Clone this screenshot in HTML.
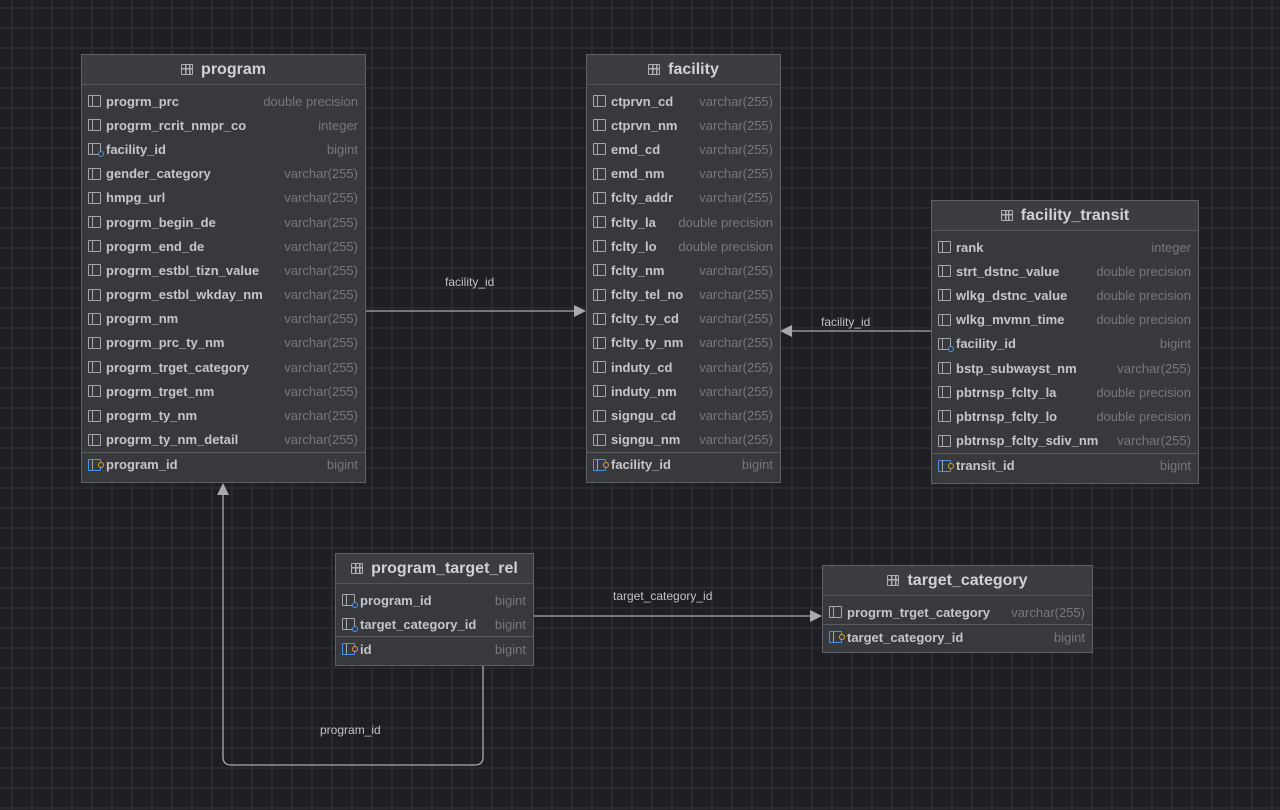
<!DOCTYPE html>
<html><head><meta charset="utf-8"><style>
body{margin:0;width:1280px;height:810px;overflow:hidden;background:#1e1f22;font-family:"Liberation Sans",sans-serif;position:relative;
background-image:linear-gradient(#2a2b2e 2px,transparent 2px),linear-gradient(90deg,#2a2b2e 2px,transparent 2px);
background-size:20px 20px;background-position:0 7px,11px 0;}
.t{position:absolute;background:#38393c;border:1px solid #5f6064;box-sizing:border-box;}
.h{height:30px;background:#3c3d40;border-bottom:1px solid #55565a;color:#d0d2d6;font-weight:bold;font-size:16px;display:flex;align-items:center;justify-content:center;box-sizing:border-box;}
.h i{display:inline-block;width:12px;height:11px;border:1.5px solid #aeb0b4;border-radius:1px;margin-right:8px;position:relative;box-sizing:border-box;
background:linear-gradient(#aeb0b4,#aeb0b4) 0 3px/100% 1.5px no-repeat,linear-gradient(#aeb0b4,#aeb0b4) 3px 0/1.5px 100% no-repeat,linear-gradient(#aeb0b4,#aeb0b4) 6.5px 0/1.5px 100% no-repeat;}
.b{padding-top:4px}
.r{height:24.2px;display:flex;align-items:center;font-size:13px;padding:0 7px 0 6px;}
.r b{color:#c4c6ca;flex:1;white-space:nowrap}
.r span{color:#76787c;white-space:nowrap}
.c{display:inline-block;width:13px;height:12px;border:1.3px solid #a5a7ab;border-radius:1px;box-sizing:border-box;margin-right:5px;position:relative;
background:linear-gradient(#a5a7ab,#a5a7ab) 3px 0/1.3px 100% no-repeat;}
.c.f::after{content:"";position:absolute;right:-4px;bottom:-3px;width:4px;height:4px;border:1.3px solid #4c8fe6;border-radius:50%;background:#38393c}
.c.p{border-color:#4c8fe6}
.c.p::after{content:"";position:absolute;right:-4px;top:2px;width:4px;height:4px;border:1.3px solid #d9a23a;border-radius:50%;background:#38393c}
.sep{border-top:1px solid #5a5b5f}
.lbl{position:absolute;color:#c0c2c6;font-size:12px}
</style></head><body>
<svg width="1280" height="810" style="position:absolute;left:0;top:0" fill="none" stroke="#a8aaad" stroke-width="1.3">
<line x1="365" y1="311" x2="576" y2="311"/><polygon points="586,311 574,305 574,317" fill="#a8aaad" stroke="none"/>
<line x1="931" y1="331" x2="790" y2="331"/><polygon points="780,331 792,325 792,337" fill="#a8aaad" stroke="none"/>
<line x1="533" y1="616" x2="812" y2="616"/><polygon points="822,616 810,610 810,622" fill="#a8aaad" stroke="none"/>
<path d="M483 665 V757 Q483 765 475 765 H231 Q223 765 223 757 V494"/><polygon points="223,483 217,495 229,495" fill="#a8aaad" stroke="none"/>
</svg>
<div class="lbl" style="left:445px;top:275px">facility_id</div>
<div class="lbl" style="left:821px;top:315px">facility_id</div>
<div class="lbl" style="left:613px;top:589px">target_category_id</div>
<div class="lbl" style="left:320px;top:723px">program_id</div>

<div class="t" style="left:81px;top:54px;width:285px;height:429px">
<div class="h"><i></i>program</div><div class="b">
<div class="r"><u class="c"></u><b>progrm_prc</b><span>double precision</span></div>
<div class="r"><u class="c"></u><b>progrm_rcrit_nmpr_co</b><span>integer</span></div>
<div class="r"><u class="c f"></u><b>facility_id</b><span>bigint</span></div>
<div class="r"><u class="c"></u><b>gender_category</b><span>varchar(255)</span></div>
<div class="r"><u class="c"></u><b>hmpg_url</b><span>varchar(255)</span></div>
<div class="r"><u class="c"></u><b>progrm_begin_de</b><span>varchar(255)</span></div>
<div class="r"><u class="c"></u><b>progrm_end_de</b><span>varchar(255)</span></div>
<div class="r"><u class="c"></u><b>progrm_estbl_tizn_value</b><span>varchar(255)</span></div>
<div class="r"><u class="c"></u><b>progrm_estbl_wkday_nm</b><span>varchar(255)</span></div>
<div class="r"><u class="c"></u><b>progrm_nm</b><span>varchar(255)</span></div>
<div class="r"><u class="c"></u><b>progrm_prc_ty_nm</b><span>varchar(255)</span></div>
<div class="r"><u class="c"></u><b>progrm_trget_category</b><span>varchar(255)</span></div>
<div class="r"><u class="c"></u><b>progrm_trget_nm</b><span>varchar(255)</span></div>
<div class="r"><u class="c"></u><b>progrm_ty_nm</b><span>varchar(255)</span></div>
<div class="r"><u class="c"></u><b>progrm_ty_nm_detail</b><span>varchar(255)</span></div>
<div class="r sep"><u class="c p"></u><b>program_id</b><span>bigint</span></div>
</div></div>

<div class="t" style="left:586px;top:54px;width:195px;height:429px">
<div class="h"><i></i>facility</div><div class="b">
<div class="r"><u class="c"></u><b>ctprvn_cd</b><span>varchar(255)</span></div>
<div class="r"><u class="c"></u><b>ctprvn_nm</b><span>varchar(255)</span></div>
<div class="r"><u class="c"></u><b>emd_cd</b><span>varchar(255)</span></div>
<div class="r"><u class="c"></u><b>emd_nm</b><span>varchar(255)</span></div>
<div class="r"><u class="c"></u><b>fclty_addr</b><span>varchar(255)</span></div>
<div class="r"><u class="c"></u><b>fclty_la</b><span>double precision</span></div>
<div class="r"><u class="c"></u><b>fclty_lo</b><span>double precision</span></div>
<div class="r"><u class="c"></u><b>fclty_nm</b><span>varchar(255)</span></div>
<div class="r"><u class="c"></u><b>fclty_tel_no</b><span>varchar(255)</span></div>
<div class="r"><u class="c"></u><b>fclty_ty_cd</b><span>varchar(255)</span></div>
<div class="r"><u class="c"></u><b>fclty_ty_nm</b><span>varchar(255)</span></div>
<div class="r"><u class="c"></u><b>induty_cd</b><span>varchar(255)</span></div>
<div class="r"><u class="c"></u><b>induty_nm</b><span>varchar(255)</span></div>
<div class="r"><u class="c"></u><b>signgu_cd</b><span>varchar(255)</span></div>
<div class="r"><u class="c"></u><b>signgu_nm</b><span>varchar(255)</span></div>
<div class="r sep"><u class="c p"></u><b>facility_id</b><span>bigint</span></div>
</div></div>

<div class="t" style="left:931px;top:200px;width:268px;height:284px">
<div class="h"><i></i>facility_transit</div><div class="b">
<div class="r"><u class="c"></u><b>rank</b><span>integer</span></div>
<div class="r"><u class="c"></u><b>strt_dstnc_value</b><span>double precision</span></div>
<div class="r"><u class="c"></u><b>wlkg_dstnc_value</b><span>double precision</span></div>
<div class="r"><u class="c"></u><b>wlkg_mvmn_time</b><span>double precision</span></div>
<div class="r"><u class="c f"></u><b>facility_id</b><span>bigint</span></div>
<div class="r"><u class="c"></u><b>bstp_subwayst_nm</b><span>varchar(255)</span></div>
<div class="r"><u class="c"></u><b>pbtrnsp_fclty_la</b><span>double precision</span></div>
<div class="r"><u class="c"></u><b>pbtrnsp_fclty_lo</b><span>double precision</span></div>
<div class="r"><u class="c"></u><b>pbtrnsp_fclty_sdiv_nm</b><span>varchar(255)</span></div>
<div class="r sep"><u class="c p"></u><b>transit_id</b><span>bigint</span></div>
</div></div>

<div class="t" style="left:335px;top:553px;width:199px;height:113px">
<div class="h"><i></i>program_target_rel</div><div class="b">
<div class="r"><u class="c f"></u><b>program_id</b><span>bigint</span></div>
<div class="r"><u class="c f"></u><b>target_category_id</b><span>bigint</span></div>
<div class="r sep"><u class="c p"></u><b>id</b><span>bigint</span></div>
</div></div>

<div class="t" style="left:822px;top:565px;width:271px;height:88px">
<div class="h"><i></i>target_category</div><div class="b">
<div class="r"><u class="c"></u><b>progrm_trget_category</b><span>varchar(255)</span></div>
<div class="r sep"><u class="c p"></u><b>target_category_id</b><span>bigint</span></div>
</div></div>
</body></html>
